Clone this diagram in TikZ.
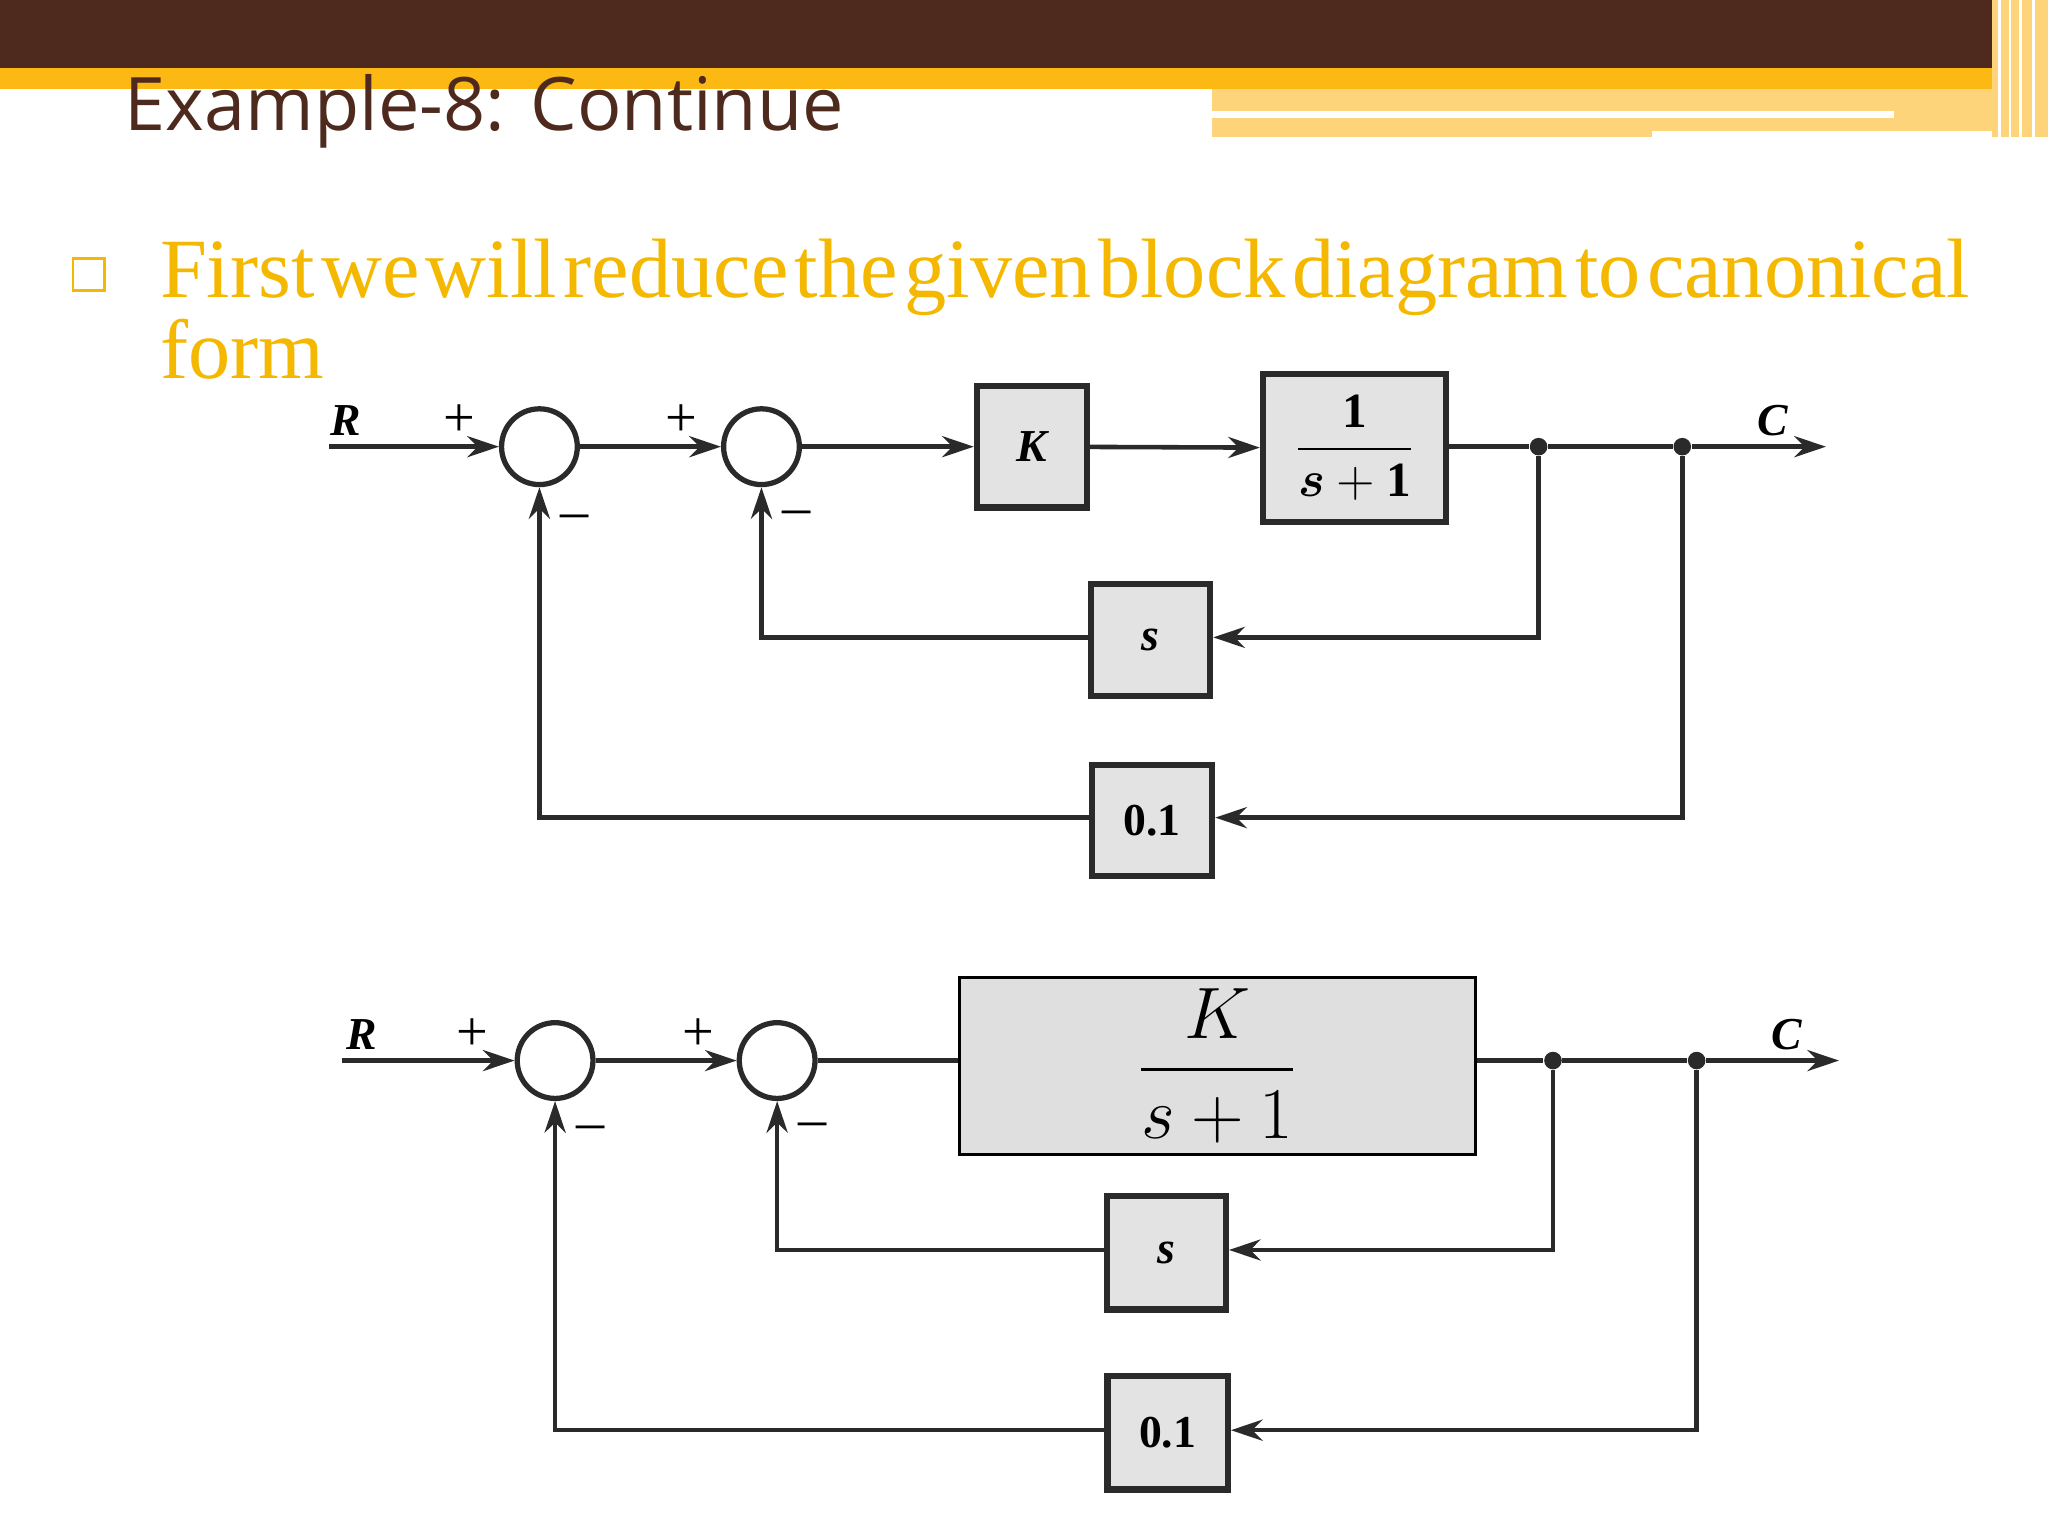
\documentclass[tikz,border=0pt]{standalone}
\usepackage{amsmath,bm}
\usepackage{fontspec}
\setmainfont{Liberation Serif}
\newfontfamily\titlefont{Open Sans}
\usetikzlibrary{arrows.meta}
\definecolor{brn}{HTML}{4E2A1E}
\definecolor{gld}{HTML}{FDB913}
\definecolor{lgld}{HTML}{FDD47A}
\definecolor{txtgold}{HTML}{F5B800}
\definecolor{ln}{HTML}{2A2A2A}
\newlength\unitpx \setlength\unitpx{0.01306cm}
\tikzset{
 sig/.style={draw=ln,line width=1.3pt},
 arr/.style={sig,-{Stealth[length=9pt,width=6pt]}},
 sumj/.style={draw=ln,line width=1.5pt,circle,minimum size=58\unitpx,inner sep=0},
 blk/.style={draw=ln,line width=1.8pt,fill=gray!22},
 lab/.style={font=\fontsize{13}{13}\selectfont\bfseries\itshape},
 dotn/.style={circle,fill=ln,inner sep=0,minimum size=5pt},
}
\begin{document}
\begin{tikzpicture}[x=0.01306cm,y=-0.01306cm]
\useasboundingbox (0,0) rectangle (1568,1176);
% banner
\fill[brn] (0,0) rectangle (1568,52);
\fill[gld] (0,52) rectangle (1568,68);
\fill[lgld] (928,68) rectangle (1530,105);
\fill[white] (928,85) rectangle (1450,90);
\fill[white] (1265,100) rectangle (1530,105);
\fill[lgld] (1525,0) rectangle (1568,105);
\foreach \x in {1530,1538,1546,1556} \fill[white] (\x,0) rectangle (\x+2,105);
\node[anchor=base west,text=brn,inner sep=0] (title) at (95,100) {\titlefont\fontsize{21}{21}\selectfont Example-8: Continue};
% bullet text
\node[draw=txtgold,line width=0.8pt,minimum size=9pt,inner sep=0] (bul) at (68,210) {};
\node[anchor=base west,inner sep=0,text=txtgold] (l1) at (122,228) {\fontsize{24}{24}\selectfont\hbox to 18.1cm{First\hfill we\hfill will\hfill reduce\hfill the\hfill given\hfill block\hfill diagram\hfill to\hfill canonical}};
\node[anchor=base west,inner sep=0,text=txtgold] (l2) at (122,290) {\fontsize{24}{24}\selectfont form};
% ===== diagram 1
\coordinate (r1) at (252,342);
\node[sumj] (a1) at (413,342) {};
\node[sumj] (b1) at (583,342) {};
\node[blk,minimum width=84\unitpx,minimum height=93\unitpx,lab] (k1) at (790,342) {K};
\node[blk,minimum width=140\unitpx,minimum height=113\unitpx] (g1) at (1037,343) {\fontsize{14}{16}\selectfont\bfseries$\dfrac{\mathbf 1}{\bm{s}+\mathbf 1}$};
\node[dotn] (d11) at (1178,342) {};
\node[dotn] (d12) at (1288,342) {};
\coordinate (c1) at (1398,342);
\node[blk,minimum width=91\unitpx,minimum height=86\unitpx,lab] (s1) at (881,490) {s};
\node[blk,minimum width=92\unitpx,minimum height=85\unitpx,font=\fontsize{13}{13}\selectfont\bfseries] (h1) at (882,628) {0.1};
\draw[arr] (r1) -- (a1);
\draw[arr] (a1) -- (b1);
\draw[arr] (b1) -- (k1);
\draw[arr] (k1) -- (g1);
\draw[sig] (g1.east|-d11) -- (d11) -- (d12);
\draw[arr] (d12) -- (c1);
\draw[arr] (d11) |- (s1.east|-0,488);
\draw[arr] (s1.west|-0,488) -| (b1);
\draw[arr] (d12) |- (h1.east|-0,626);
\draw[arr] (h1.west|-0,626) -| (a1);
\node[lab] (R1) at (265,322) {R};
\node[lab] (C1) at (1357,322) {C};
\node[font=\fontsize{16}{16}\selectfont] (p11) at (352,322) {+};
\node[font=\fontsize{16}{16}\selectfont] (p12) at (522,322) {+};
\node[font=\fontsize{16}{16}\selectfont] (m11) at (440,400) {--};
\node[font=\fontsize{16}{16}\selectfont] (m12) at (610,397) {--};
% ===== diagram 2
\coordinate (r2) at (262,812);
\node[sumj] (a2) at (425,812) {};
\node[sumj] (b2) at (595,812) {};
\node[draw=black,line width=0.8pt,fill=gray!25,minimum width=395\unitpx,minimum height=135\unitpx] (g2) at (932,816) {\fontsize{22}{24}\selectfont$\dfrac{K}{s+1}$};
\node[dotn] (d21) at (1189,812) {};
\node[dotn] (d22) at (1299,812) {};
\coordinate (c2) at (1408,812);
\node[blk,minimum width=91\unitpx,minimum height=87\unitpx,lab] (s2) at (893,959) {s};
\node[blk,minimum width=92\unitpx,minimum height=87\unitpx,font=\fontsize{13}{13}\selectfont\bfseries] (h2) at (894,1097) {0.1};
\draw[arr] (r2) -- (a2);
\draw[arr] (a2) -- (b2);
\draw[sig] (b2) -- (g2.west|-b2);
\draw[sig] (g2.east|-d21) -- (d21) -- (d22);
\draw[arr] (d22) -- (c2);
\draw[arr] (d21) |- (s2.east|-0,957);
\draw[arr] (s2.west|-0,957) -| (b2);
\draw[arr] (d22) |- (h2.east|-0,1095);
\draw[arr] (h2.west|-0,1095) -| (a2);
\node[lab] (R2) at (277,792) {R};
\node[lab] (C2) at (1368,792) {C};
\node[font=\fontsize{16}{16}\selectfont] (p21) at (362,792) {+};
\node[font=\fontsize{16}{16}\selectfont] (p22) at (535,792) {+};
\node[font=\fontsize{16}{16}\selectfont] (m21) at (452,868) {--};
\node[font=\fontsize{16}{16}\selectfont] (m22) at (622,865) {--};
\end{tikzpicture}
\end{document}
